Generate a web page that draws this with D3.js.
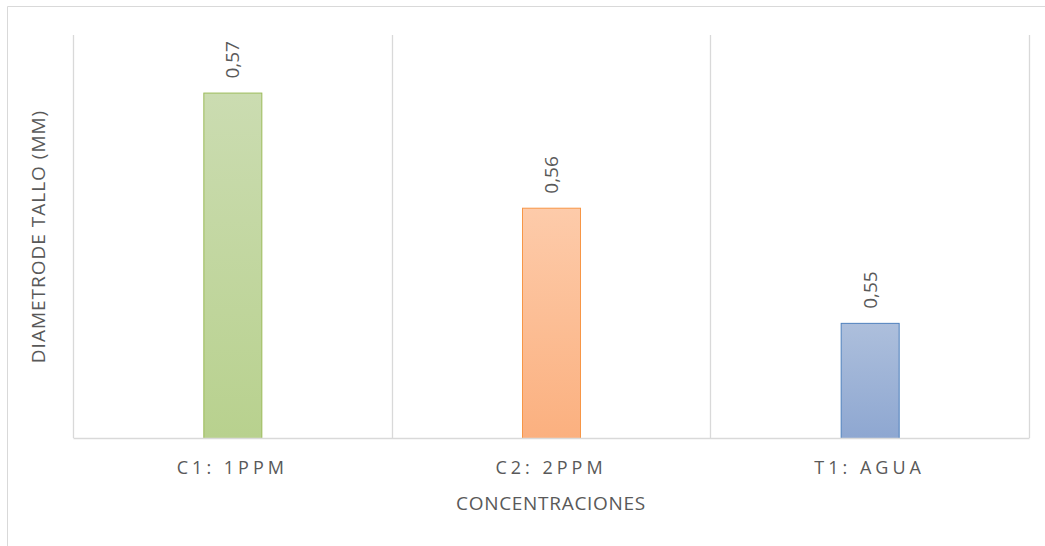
<!DOCTYPE html>
<html>
<head>
<meta charset="utf-8">
<script src="https://cdn.jsdelivr.net/npm/d3@7"></script>
<style>
  body { margin: 0; background: #fff; }
  text { font-family: "Open Sans", "Liberation Sans", sans-serif; fill: #595959; }
</style>
</head>
<body>
<div id="chart"></div>
<script>
var categories = ["C1: 1PPM", "C2: 2PPM", "T1: AGUA"];
var values = [0.57, 0.56, 0.55];
var valueLabels = ["0,57", "0,56", "0,55"];
var yDomain = [0.54, 0.575];

var fills = [
    { top: "#cbdcb1", bottom: "#b8d18e", stroke: "#9bbb59" },
    { top: "#fdcbaa", bottom: "#fbb07f", stroke: "#f79646" },
    { top: "#adbfdc", bottom: "#8ea7d1", stroke: "#4f81bd" }
];

var width = 1045, height = 546;
var margin = { top: 35, right: 16, bottom: 108, left: 73 };
var plotW = width - margin.left - margin.right;
var plotH = height - margin.top - margin.bottom;

var svg = d3.select("#chart").append("svg")
    .attr("width", width)
    .attr("height", height);

// chart border (partly cut off at right/bottom)
svg.append("path")
    .attr("d", "M7.5,546 V6.5 H1045")
    .attr("fill", "none")
    .attr("stroke", "#d9d9d9")
    .attr("stroke-width", 1);

var defs = svg.append("defs");
fills.forEach(function(f, i) {
    var g = defs.append("linearGradient")
        .attr("id", "grad" + i)
        .attr("x1", 0).attr("y1", 0).attr("x2", 0).attr("y2", 1);
    g.append("stop").attr("offset", "0%").attr("stop-color", f.top);
    g.append("stop").attr("offset", "100%").attr("stop-color", f.bottom);
});

var g = svg.append("g")
    .attr("transform", "translate(" + margin.left + "," + margin.top + ")");

var x = d3.scaleBand()
    .domain(categories)
    .range([0, plotW])
    .paddingInner(0)
    .paddingOuter(0);

var y = d3.scaleLinear()
    .domain(yDomain)
    .range([plotH, 0]);

// vertical gridlines at band edges
var edges = categories.map(function(c) { return x(c); }).concat([plotW]);
g.selectAll("line.grid")
    .data(edges)
    .enter().append("line")
    .attr("class", "grid")
    .attr("x1", function(d) { return Math.round(d) + 0.5; })
    .attr("x2", function(d) { return Math.round(d) + 0.5; })
    .attr("y1", 0)
    .attr("y2", plotH)
    .attr("stroke", "#d9d9d9")
    .attr("stroke-width", 1.3);

var barW = 58;

g.selectAll("rect.bar")
    .data(values)
    .enter().append("rect")
    .attr("class", "bar")
    .attr("x", function(d, i) { return x(categories[i]) + x.bandwidth() / 2 - barW / 2 + 0.5; })
    .attr("y", function(d) { return y(d) + 0.5; })
    .attr("width", barW)
    .attr("height", function(d) { return plotH - y(d); })
    .attr("fill", function(d, i) { return "url(#grad" + i + ")"; })
    .attr("stroke", function(d, i) { return fills[i].stroke; })
    .attr("stroke-width", 1);

// baseline axis
var xAxis = g.append("g")
    .attr("transform", "translate(0," + plotH + ")")
    .call(d3.axisBottom(x).tickSize(0).tickPadding(23));
xAxis.select(".domain").attr("stroke", "#d9d9d9").attr("stroke-width", 1.5);
xAxis.selectAll("text")
    .style("font-size", "18px")
    .style("letter-spacing", "4px")
    .attr("fill", "#595959");

// value labels, rotated
g.selectAll("text.val")
    .data(values)
    .enter().append("text")
    .attr("class", "val")
    .attr("transform", function(d, i) {
        var cx = x(categories[i]) + x.bandwidth() / 2;
        return "translate(" + (cx + 7) + "," + (y(d) - 14) + ") rotate(-90)";
    })
    .attr("text-anchor", "start")
    .style("font-size", "19px")
    .text(function(d, i) { return valueLabels[i]; });

// axis titles
svg.append("text")
    .attr("transform", "translate(" + 45 + "," + (margin.top + plotH / 2) + ") rotate(-90)")
    .attr("text-anchor", "middle")
    .style("font-size", "19px")
    .style("letter-spacing", "1px")
    .text("DIAMETRODE TALLO (MM)");

svg.append("text")
    .attr("x", margin.left + plotW / 2)
    .attr("y", 510)
    .attr("text-anchor", "middle")
    .style("font-size", "19px")
    .style("letter-spacing", "0.7px")
    .text("CONCENTRACIONES");
</script>
</body>
</html>
